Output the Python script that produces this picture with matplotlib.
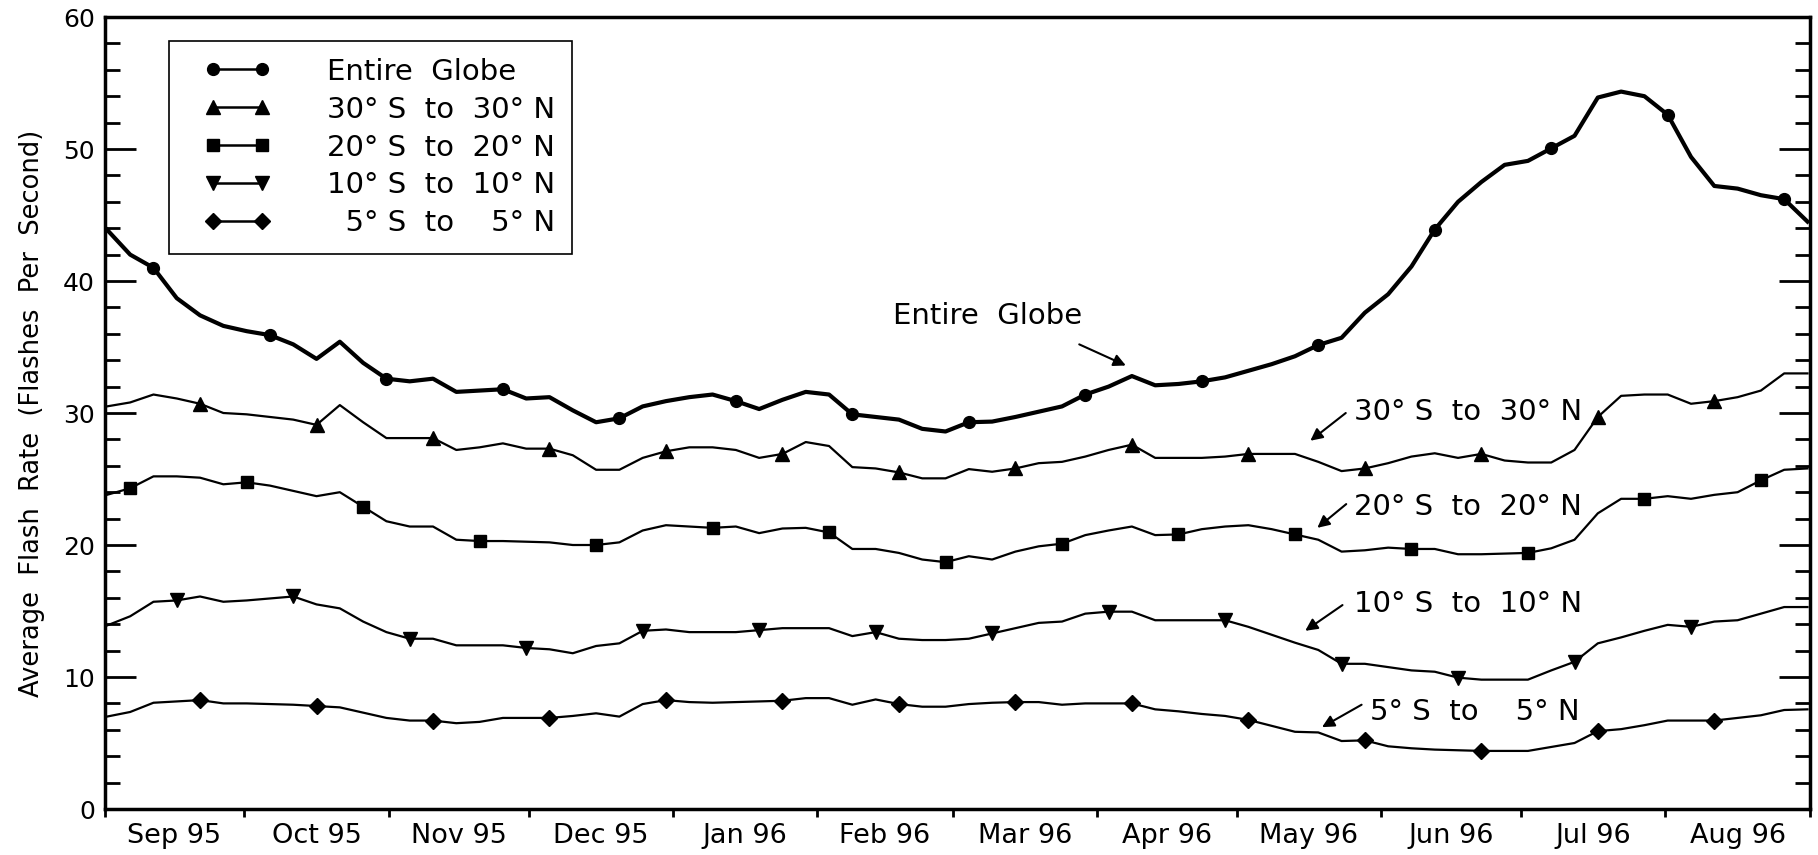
import numpy as np
import matplotlib
matplotlib.use('Agg')
import matplotlib.pyplot as plt
from matplotlib.lines import Line2D
from matplotlib.legend_handler import HandlerLine2D

# pentad centres, days since 1 Sep 1995
days = np.arange(74) * 5 + 0.5

month_edges = [0, 30, 61, 91, 122, 153, 182, 213, 243, 274, 304, 335, 366]
month_labels = ['Sep 95', 'Oct 95', 'Nov 95', 'Dec 95', 'Jan 96', 'Feb 96',
                'Mar 96', 'Apr 96', 'May 96', 'Jun 96', 'Jul 96', 'Aug 96']

entire_globe = [
    43.9, 42.0, 41.0, 38.7, 37.4, 36.6, 36.2, 35.9, 35.2, 34.1,
    35.4, 33.8, 32.6, 32.4, 32.6, 31.6, 31.7, 31.8, 31.1, 31.2,
    30.2, 29.3, 29.6, 30.5, 30.9, 31.2, 31.4, 30.9, 30.3, 31.0,
    31.6, 31.4, 29.9, 29.7, 29.5, 28.8, 28.6, 29.3, 29.35, 29.7,
    30.1, 30.5, 31.4, 32.0, 32.8, 32.1, 32.2, 32.4, 32.7, 33.2,
    33.7, 34.3, 35.15, 35.7, 37.6, 39.0, 41.1, 43.9, 46.0, 47.5,
    48.8, 49.1, 50.05, 51.0, 53.9, 54.35, 54.0, 52.6, 49.4, 47.2,
    47.0, 46.5, 46.2, 44.5]

lat30 = [
    30.5, 30.8, 31.4, 31.1, 30.7, 30.0, 29.9, 29.7, 29.5, 29.1,
    30.6, 29.3, 28.1, 28.1, 28.1, 27.2, 27.4, 27.7, 27.3, 27.3,
    26.8, 25.7, 25.7, 26.6, 27.1, 27.4, 27.4, 27.2, 26.6, 26.9,
    27.8, 27.5, 25.9, 25.8, 25.5, 25.05, 25.05, 25.75, 25.55, 25.8,
    26.2, 26.3, 26.7, 27.2, 27.6, 26.6, 26.6, 26.6, 26.7, 26.9,
    26.9, 26.9, 26.3, 25.6, 25.8, 26.2, 26.7, 26.95, 26.6, 26.9,
    26.4, 26.25, 26.25, 27.2, 29.7, 31.3, 31.4, 31.4, 30.7, 30.9,
    31.2, 31.7, 33.0, 33.0]

lat20 = [
    23.8, 24.3, 25.2, 25.2, 25.1, 24.6, 24.75, 24.5, 24.1, 23.7,
    24.0, 22.9, 21.8, 21.4, 21.4, 20.4, 20.3, 20.3, 20.25, 20.2,
    20.0, 20.0, 20.2, 21.1, 21.5, 21.4, 21.3, 21.4, 20.9, 21.25,
    21.3, 20.95, 19.7, 19.7, 19.4, 18.9, 18.7, 19.15, 18.9, 19.5,
    19.9, 20.1, 20.75, 21.1, 21.4, 20.75, 20.8, 21.2, 21.4, 21.5,
    21.2, 20.8, 20.4, 19.5, 19.6, 19.8, 19.7, 19.7, 19.3, 19.3,
    19.35, 19.4, 19.75, 20.4, 22.4, 23.5, 23.5, 23.7, 23.5, 23.8,
    24.0, 24.9, 25.7, 25.8]

lat10 = [
    13.9, 14.6, 15.7, 15.8, 16.1, 15.7, 15.8, 15.95, 16.1, 15.5,
    15.2, 14.2, 13.4, 12.9, 12.9, 12.4, 12.4, 12.4, 12.2, 12.1,
    11.8, 12.35, 12.55, 13.5, 13.6, 13.4, 13.4, 13.4, 13.55, 13.7,
    13.7, 13.7, 13.1, 13.4, 12.9, 12.8, 12.8, 12.9, 13.3, 13.7,
    14.1, 14.2, 14.8, 14.95, 14.95, 14.3, 14.3, 14.3, 14.3, 13.8,
    13.2, 12.6, 12.05, 11.0, 11.0, 10.75, 10.5, 10.4, 9.95, 9.8,
    9.8, 9.8, 10.5, 11.15, 12.55, 13.0, 13.5, 13.95, 13.8, 14.2,
    14.3, 14.8, 15.3, 15.3]

lat5 = [
    7.0, 7.35, 8.05, 8.15, 8.25, 8.0, 8.0, 7.95, 7.9, 7.8,
    7.7, 7.3, 6.9, 6.7, 6.7, 6.5, 6.6, 6.9, 6.9, 6.9,
    7.05, 7.25, 7.0, 7.95, 8.25, 8.1, 8.05, 8.1, 8.15, 8.2,
    8.4, 8.4, 7.9, 8.3, 7.95, 7.75, 7.75, 7.95, 8.05, 8.1,
    8.1, 7.9, 8.0, 8.0, 8.0, 7.55, 7.4, 7.2, 7.05, 6.75,
    6.3, 5.85, 5.8, 5.15, 5.2, 4.75, 4.6, 4.5, 4.45, 4.4,
    4.4, 4.4, 4.7, 5.0, 5.9, 6.05, 6.35, 6.7, 6.7, 6.7,
    6.9, 7.1, 7.5, 7.55]

labels = ['Entire  Globe',
          '30° S  to  30° N',
          '20° S  to  20° N',
          '10° S  to  10° N',
          '  5° S  to    5° N']

plt.rcParams['font.family'] = 'DejaVu Sans'

fig = plt.figure(figsize=(18.18, 8.55), dpi=100)
ax = fig.add_axes([0.0575, 0.0538, 0.938, 0.9263])

# (values, marker, markersize, linewidth, first marker index, last)
styles = [
    (entire_globe, 'o', 8.5, 3.0, 2, None),
    (lat30, '^', 10, 1.6, 4, None),
    (lat20, 's', 8.5, 1.6, 1, None),
    (lat10, 'v', 10, 1.6, 3, 70),
    (lat5, 'D', 8.0, 1.6, 4, None),
]

handles = []
for vals, mk, ms, lw, m0, m1 in styles:
    ax.plot(days, vals, color='black', lw=lw, marker=mk, ms=ms,
            markevery=slice(m0, m1, 5), mfc='black', mec='black')
    handles.append(Line2D([], [], color='black', lw=1.8, marker=mk, ms=ms,
                          mfc='black', mec='black'))

ax.set_xlim(0, 366)
ax.set_ylim(0, 60)

centres = [(a + b) / 2 for a, b in zip(month_edges[:-1], month_edges[1:])]
ax.set_xticks(month_edges)
ax.set_xticklabels([])
ax.set_xticks(centres, minor=True)
ax.set_xticklabels(month_labels, minor=True)
ax.tick_params(axis='x', which='major', direction='out', length=6, width=2)
ax.tick_params(axis='x', which='minor', length=0, pad=10, labelsize=19.5)

ax.set_yticks(range(0, 61, 10))
ax.set_yticks(range(0, 61, 2), minor=True)
ax.tick_params(axis='y', which='major', direction='in', length=22, width=2,
               right=True, labelsize=18, pad=7)
ax.tick_params(axis='y', which='minor', direction='in', length=10.5, width=2,
               right=True)

for s in ax.spines.values():
    s.set_linewidth(2.5)

ax.set_ylabel('Average  Flash  Rate  (Flashes  Per  Second)', fontsize=18.5)
ax.yaxis.set_label_coords(-0.035, 0.5)

leg = ax.legend(handles, labels, loc='upper left', bbox_to_anchor=(0.0377, 0.970),
                borderaxespad=0, fancybox=False, edgecolor='black', framealpha=1,
                fontsize=21, handlelength=3.55, handletextpad=1.3, labelspacing=0.34,
                borderpad=0.58,
                handler_map={Line2D: HandlerLine2D(numpoints=2, marker_pad=0.95)})
leg.get_frame().set_linewidth(1.2)

# curve labels with arrows
notes = [
    ('Entire  Globe', 169.2, 36.74, (209.2, 35.2), (219.2, 33.6)),
    (labels[1], 268.1, 29.47, (266.4, 30.0), (258.8, 27.9)),
    (labels[2], 268.1, 22.27, (266.5, 23.1), (260.3, 21.3)),
    (labels[3], 268.1, 14.95, (265.7, 15.45), (257.7, 13.5)),
    ('5° S  to    5° N', 271.5, 6.74, (269.8, 7.9), (261.3, 6.2)),
]
for txt, tx, ty, tail, tip in notes:
    ax.text(tx, ty, txt, fontsize=21, ha='left', va='baseline')
    ax.annotate('', xy=tip, xytext=tail,
                arrowprops=dict(arrowstyle='-|>', color='black', lw=1.5,
                                mutation_scale=18, shrinkA=0, shrinkB=0))

fig.savefig('out.png', dpi=100)
